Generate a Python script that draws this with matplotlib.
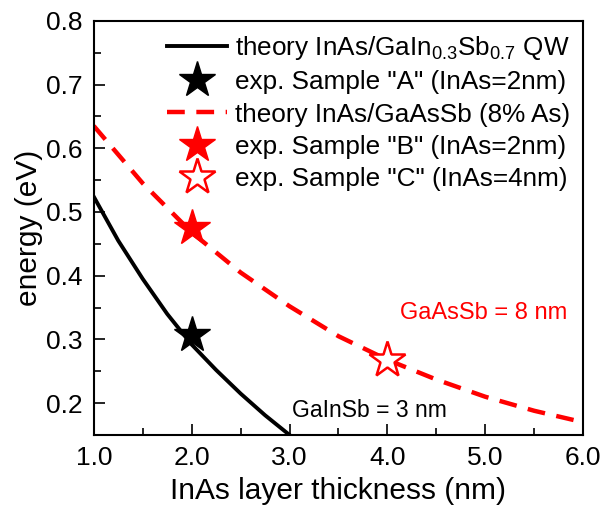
import numpy as np
import matplotlib
matplotlib.use("Agg")
import matplotlib.pyplot as plt
from matplotlib.ticker import MultipleLocator

plt.rcParams['font.family'] = 'Liberation Sans'
plt.rcParams['mathtext.fontset'] = 'custom'
plt.rcParams['mathtext.rm'] = 'Liberation Sans'
plt.rcParams['mathtext.it'] = 'Liberation Sans'

# theory curves
x_gainsb = [1.0, 1.25, 1.5, 1.75, 2.0, 2.25, 2.5, 2.75, 3.0]
e_gainsb = [0.524, 0.455, 0.395, 0.340, 0.292, 0.252, 0.215, 0.181, 0.150]

x_gaassb = [1.0, 1.5, 2.0, 2.5, 3.0, 3.5, 4.0, 4.5, 5.0, 5.5, 6.0]
e_gaassb = [0.635, 0.545, 0.468, 0.405, 0.352, 0.305, 0.268, 0.237, 0.210, 0.188, 0.170]

# experimental samples
sample_a = (2.0, 0.307)
sample_b = (2.0, 0.475)
sample_c = (4.0, 0.268)

fig, ax = plt.subplots(figsize=(6.05, 5.07), dpi=100)
fig.subplots_adjust(left=0.155, right=0.964, top=0.959, bottom=0.142)

ax.plot(x_gainsb, e_gainsb, color='black', lw=2.8,
        label=r'theory InAs/GaIn$_{0.3}$Sb$_{0.7}$ QW')
ax.plot(*sample_a, ls='none', marker='*', ms=27, color='black',
        label='exp. Sample "A" (InAs=2nm)')
ax.plot(x_gaassb, e_gaassb, color='red', lw=3.2, dashes=(4, 2.6),
        label='theory InAs/GaAsSb (8% As)')
ax.plot(*sample_b, ls='none', marker='*', ms=27, color='red',
        label='exp. Sample "B" (InAs=2nm)')
ax.plot(*sample_c, ls='none', marker='*', ms=27, mfc='white', mec='red',
        mew=1.8, label='exp. Sample "C" (InAs=4nm)')

ax.text(4.13, 0.342, 'GaAsSb = 8 nm', color='red', fontsize=17, va='center')
ax.text(3.02, 0.189, 'GaInSb = 3 nm', color='black', fontsize=16.5, va='center')

ax.set_xlim(1.0, 6.0)
ax.set_ylim(0.15, 0.8)
ax.xaxis.set_major_locator(MultipleLocator(1.0))
ax.xaxis.set_minor_locator(MultipleLocator(0.5))
ax.yaxis.set_major_locator(MultipleLocator(0.1))
ax.yaxis.set_minor_locator(MultipleLocator(0.05))
ax.xaxis.set_major_formatter(plt.FormatStrFormatter('%.1f'))
ax.yaxis.set_major_formatter(plt.FormatStrFormatter('%.1f'))
ax.tick_params(which='both', direction='in', labelsize=19, width=1.2)
ax.tick_params(which='major', length=8, pad=8)
ax.tick_params(which='minor', length=5)
for s in ax.spines.values():
    s.set_linewidth(1.5)

ax.set_xlabel('InAs layer thickness (nm)', fontsize=21.5, labelpad=5)
ax.set_ylabel('energy (eV)', fontsize=21.5, labelpad=2)

ax.legend(loc='upper right', bbox_to_anchor=(1.0, 1.0), frameon=False,
          fontsize=18.8, handlelength=2.3, handletextpad=0.3,
          labelspacing=0.32, borderaxespad=0.1)

fig.savefig('out.png', dpi=100)
